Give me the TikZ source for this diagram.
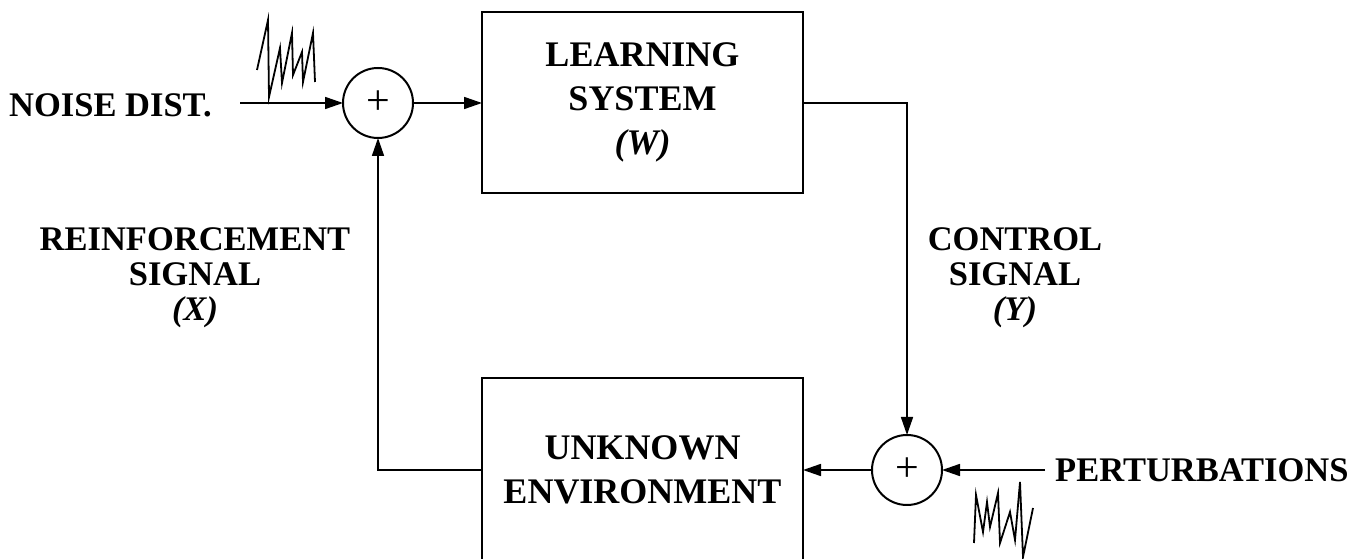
\documentclass[tikz,border=0pt]{standalone}
\usepackage{fontspec}
\setmainfont{Liberation Serif}
\usetikzlibrary{arrows.meta}
\begin{document}
\begin{tikzpicture}[x=1pt,y=1pt,
 blk/.style={draw, line width=2.6pt, minimum width=321pt, inner sep=0pt, outer sep=0pt, align=center, font=\fontsize{36}{44}\selectfont\bfseries},
 sumnode/.style={draw, circle, line width=2pt, minimum size=70pt, inner sep=0pt, outer sep=0pt, font=\fontsize{42}{42}\selectfont},
 lbl/.style={align=center, font=\fontsize{34.5}{35}\selectfont\bfseries, inner sep=0pt},
 conn/.style={line width=1.6pt},
 arr/.style={conn, -{Triangle[length=18pt,width=12pt]}},
 zig/.style={line width=1.8pt, line join=miter}]
\useasboundingbox (0,0) rectangle (1354,559);
\clip (0,0) rectangle (1354,559);
\node[blk, minimum height=181pt] (ls) at (642.5,456.5) {LEARNING\\SYSTEM\\\textit{(W)}};
\node[blk, minimum height=184pt] (ue) at (642.5,89) {UNKNOWN\\ENVIRONMENT};
\node[sumnode] (s1) at (378,456) {+};
\node[sumnode] (s2) at (907,89) {+};
\node[lbl, anchor=base west] (nd) at (9,442) {NOISE DIST.};
\node[lbl, anchor=base west] (pt) at (1055,77) {PERTURBATIONS};
\node[lbl] (rs) at (195,281) {REINFORCEMENT\\SIGNAL\\\textit{(X)}};
\node[lbl] (cs) at (1015,281) {CONTROL\\SIGNAL\\\textit{(Y)}};
\coordinate (nin) at (240,456);
\coordinate (pin) at (1045,89);
\draw[arr] (nin) -- (s1);
\draw[arr] (s1) -- (s1 -| ls.west);
\draw[arr] (ls.east |- s1) -| (s2);
\draw[arr] (s2) -- (ue);
\draw[arr] (pin) -- (s2);
\draw[arr] (ue.west) -| (s1);
\draw[zig] (257,489) -- (268,539) -- (269,462) -- (280,511) -- (282,476) -- (292,526) -- (293,484) -- (302,507) -- (303,477) -- (313,526) -- (315,477);
\draw[zig] (974,16) -- (976,64) -- (983,27) -- (987,57) -- (990,32) -- (998,66) -- (1000,16) -- (1010,47) -- (1015,19) -- (1020,77) -- (1023,2) -- (1033,51);
\end{tikzpicture}
\end{document}
